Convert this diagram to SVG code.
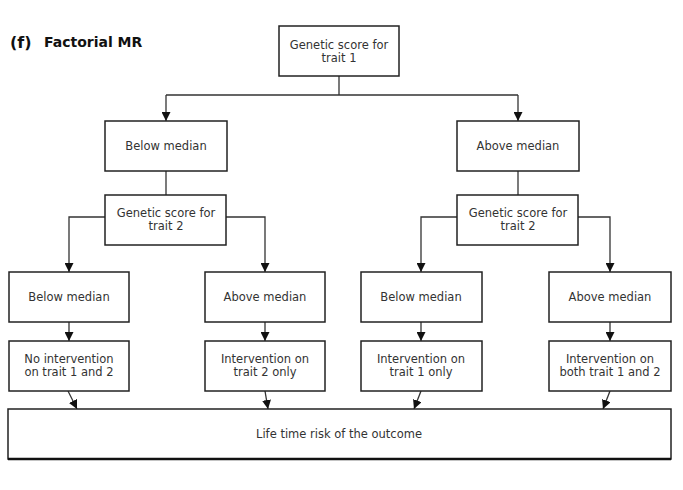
<svg xmlns="http://www.w3.org/2000/svg" width="683" height="490" viewBox="0 0 683 490">
<defs>
<marker id="ah" viewBox="0 0 10 10" refX="10" refY="5" markerWidth="9" markerHeight="9" markerUnits="userSpaceOnUse" orient="auto">
<path d="M0,0 L10,5 L0,10 z" fill="#111"/>
</marker>
<style>
.box{fill:#fff;stroke:#222;stroke-width:1.5}
.t{font-family:"DejaVu Sans","Liberation Sans",sans-serif;font-size:11.5px;fill:#333;text-anchor:middle}
.c{fill:none;stroke:#333;stroke-width:1.3}
.a{marker-end:url(#ah)}
.title{font-family:"DejaVu Sans","Liberation Sans",sans-serif;font-weight:bold;fill:#111}
</style>
</defs>
<rect width="683" height="490" fill="#fff"/>
<text class="title" x="10" y="48" font-size="16">(f)</text>
<text class="title" x="44" y="47" font-size="14">Factorial MR</text>

<g id="connectors">
<path class="c" d="M339,76 V95 M166,95 H518"/>
<path class="c a" d="M166,95 V121"/>
<path class="c a" d="M518,95 V121"/>
<path class="c" d="M166,171 V195"/>
<path class="c" d="M518,171 V195"/>
<path class="c a" d="M105,217 H69 V272"/>
<path class="c a" d="M226,217 H265 V272"/>
<path class="c a" d="M457,217 H421 V272"/>
<path class="c a" d="M578,217 H610 V272"/>
<path class="c a" d="M69,322 V341"/>
<path class="c a" d="M265,322 V341"/>
<path class="c a" d="M421,322 V341"/>
<path class="c a" d="M610,322 V341"/>
<path class="c a" d="M68,391 L77,409"/>
<path class="c a" d="M265,391 L268,409"/>
<path class="c a" d="M421,391 L414,409"/>
<path class="c a" d="M610,391 L603,409"/>
</g>

<g id="gs1"><rect class="box" x="279" y="26" width="120" height="50"/><text class="t" x="339" y="49">Genetic score for</text><text class="t" x="339" y="62">trait 1</text></g>
<g id="below1"><rect class="box" x="105" y="121" width="122" height="50"/><text class="t" x="166" y="150">Below median</text></g>
<g id="above1"><rect class="box" x="457" y="121" width="122" height="50"/><text class="t" x="518" y="150">Above median</text></g>
<g id="gs2a"><rect class="box" x="105" y="195" width="121" height="50"/><text class="t" x="166" y="217">Genetic score for</text><text class="t" x="166" y="230">trait 2</text></g>
<g id="gs2b"><rect class="box" x="457" y="195" width="121" height="50"/><text class="t" x="518" y="217">Genetic score for</text><text class="t" x="518" y="230">trait 2</text></g>

<g id="bb"><rect class="box" x="9" y="272" width="120" height="50"/><text class="t" x="69" y="301">Below median</text></g>
<g id="ba"><rect class="box" x="205" y="272" width="120" height="50"/><text class="t" x="265" y="301">Above median</text></g>
<g id="ab"><rect class="box" x="361" y="272" width="121" height="50"/><text class="t" x="421" y="301">Below median</text></g>
<g id="aa"><rect class="box" x="549" y="272" width="122" height="50"/><text class="t" x="610" y="301">Above median</text></g>

<g id="none"><rect class="box" x="9" y="341" width="120" height="50"/><text class="t" x="69" y="363">No intervention</text><text class="t" x="69" y="376">on trait 1 and 2</text></g>
<g id="t2only"><rect class="box" x="205" y="341" width="120" height="50"/><text class="t" x="265" y="363">Intervention on</text><text class="t" x="265" y="376">trait 2 only</text></g>
<g id="t1only"><rect class="box" x="361" y="341" width="121" height="50"/><text class="t" x="421" y="363">Intervention on</text><text class="t" x="421" y="376">trait 1 only</text></g>
<g id="both"><rect class="box" x="549" y="341" width="122" height="50"/><text class="t" x="610" y="363">Intervention on</text><text class="t" x="610" y="376">both trait 1 and 2</text></g>

<g id="risk"><rect class="box" x="8" y="409" width="663" height="50"/><line x1="8" y1="459" x2="671" y2="459" stroke="#111" stroke-width="2.5"/><text class="t" x="339" y="438">Life time risk of the outcome</text></g>
</svg>
